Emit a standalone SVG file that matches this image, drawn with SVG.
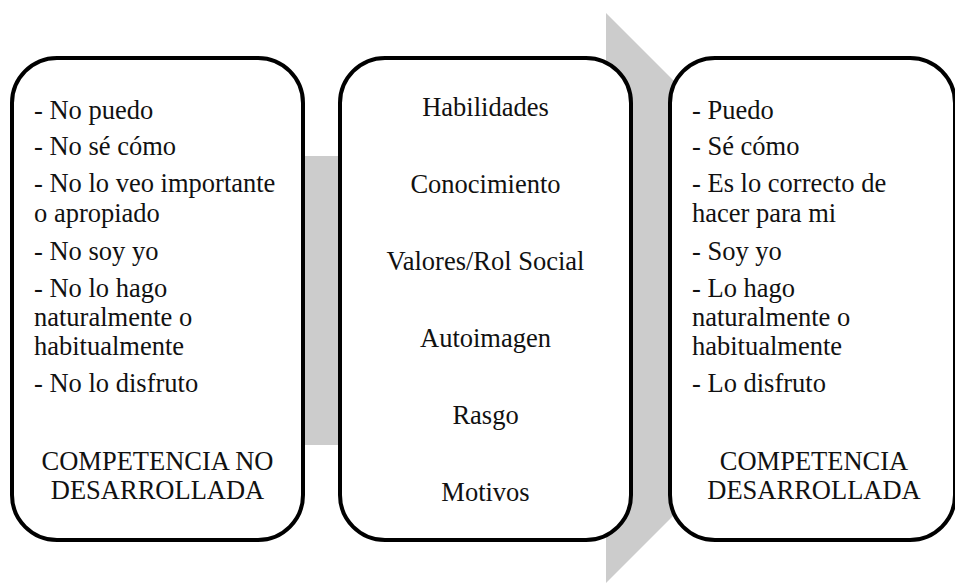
<svg xmlns="http://www.w3.org/2000/svg" width="955" height="583" viewBox="0 0 955 583" font-family="Liberation Serif, Times New Roman, serif" font-size="26.5">
  <defs>
    <style>
      .box { fill: #ffffff; stroke: #000000; stroke-width: 4; }
    </style>
  </defs>
  <rect width="955" height="583" fill="#ffffff"/>
  <g id="connectors">
    <polygon fill="#cccccc" points="30,156 606,156 606,13 891,298 606,583 606,445 30,445"/>
  </g>
  <g id="node-no-desarrollada" fill="#111111">
    <rect class="box" x="12" y="58" width="291" height="482" rx="45" ry="45"/>
    <text x="34" y="119">- No puedo</text>
    <text x="34" y="155">- No sé cómo</text>
    <text x="34" y="192">- No lo veo importante</text>
    <text x="34" y="222">o apropiado</text>
    <text x="34" y="260">- No soy yo</text>
    <text x="34" y="297">- No lo hago</text>
    <text x="34" y="326">naturalmente o</text>
    <text x="34" y="355">habitualmente</text>
    <text x="34" y="392">- No lo disfruto</text>
    <text x="157.5" y="470" text-anchor="middle">COMPETENCIA NO</text>
    <text x="157.5" y="499" text-anchor="middle">DESARROLLADA</text>
  </g>
  <g id="node-componentes" fill="#111111" text-anchor="middle">
    <rect class="box" x="340" y="58" width="291" height="482" rx="45" ry="45"/>
    <text x="485.5" y="116">Habilidades</text>
    <text x="485.5" y="193">Conocimiento</text>
    <text x="485.5" y="270">Valores/Rol Social</text>
    <text x="485.5" y="347">Autoimagen</text>
    <text x="485.5" y="424">Rasgo</text>
    <text x="485.5" y="500.5">Motivos</text>
  </g>
  <g id="node-desarrollada" fill="#111111">
    <rect class="box" x="670" y="58" width="285" height="482" rx="45" ry="45"/>
    <text x="692" y="119">- Puedo</text>
    <text x="692" y="155">- Sé cómo</text>
    <text x="692" y="192">- Es lo correcto de</text>
    <text x="692" y="222">hacer para mi</text>
    <text x="692" y="260">- Soy yo</text>
    <text x="692" y="297">- Lo hago</text>
    <text x="692" y="326">naturalmente o</text>
    <text x="692" y="355">habitualmente</text>
    <text x="692" y="392">- Lo disfruto</text>
    <text x="814" y="470" text-anchor="middle">COMPETENCIA</text>
    <text x="814" y="499" text-anchor="middle">DESARROLLADA</text>
  </g>
</svg>
